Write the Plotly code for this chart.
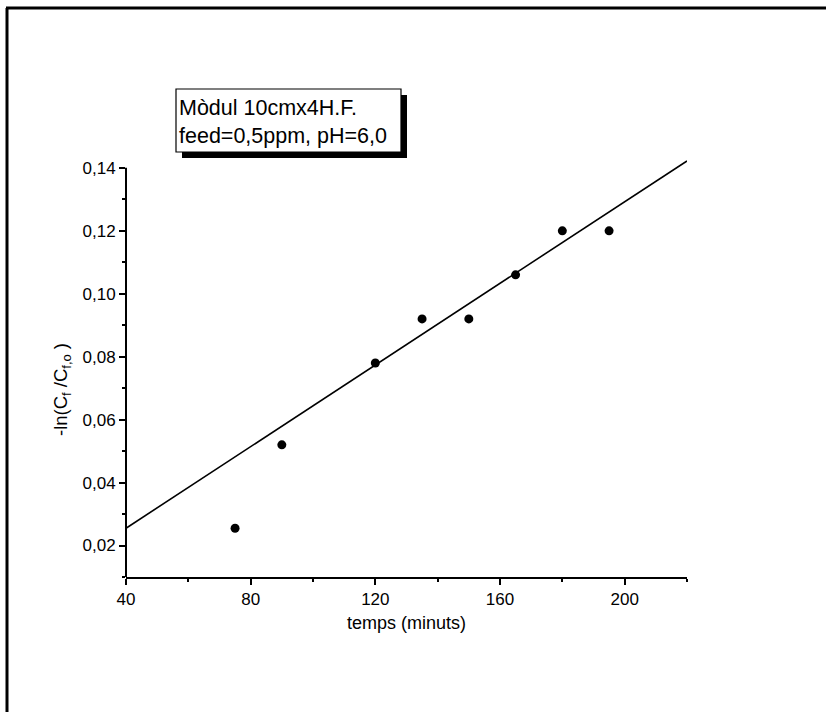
import plotly.graph_objects as go

# ---- data ----
time_min = [75, 90, 120, 135, 150, 165, 180, 195]
neg_ln_ratio = [0.0255, 0.052, 0.078, 0.092, 0.092, 0.106, 0.120, 0.120]
fit_x = [40, 220]
fit_y = [0.0255, 0.1422]
x_ticks = [40, 80, 120, 160, 200]
y_ticks = [0.02, 0.04, 0.06, 0.08, 0.10, 0.12, 0.14]
y_ticklabels = ["0,02", "0,04", "0,06", "0,08", "0,10", "0,12", "0,14"]
box_text = "Mòdul 10cmx4H.F.<br>feed=0,5ppm, pH=6,0"
x_title = "temps (minuts)"
y_title = "-ln(C<sub>f</sub> /C<sub>f,o</sub> )"

W, H = 826, 712
L, R, T, B = 126, 687, 160, 577


def px(x):
    return (x - L) / (R - L)


def py(y):
    return (B - y) / (B - T)


FONT = "Arial, Liberation Sans, sans-serif"

fig = go.Figure()
fig.add_trace(go.Scatter(x=fit_x, y=fit_y, mode="lines",
                         line=dict(color="black", width=1.6),
                         showlegend=False, hoverinfo="skip"))
fig.add_trace(go.Scatter(x=time_min, y=neg_ln_ratio, mode="markers",
                         marker=dict(color="black", size=9),
                         showlegend=False))

fig.update_layout(
    width=W, height=H,
    margin=dict(l=L, r=W - R, t=T, b=H - B, pad=0),
    paper_bgcolor="white", plot_bgcolor="white",
    font=dict(family=FONT, color="black"),
    separators=",.",
    xaxis=dict(range=[40, 220], tickvals=x_ticks, ticks="outside",
               ticklen=6, tickwidth=1.5, tickcolor="black",
               showline=True, linecolor="black", linewidth=2,
               showgrid=False, zeroline=False,
               tickfont=dict(size=17, family=FONT),
               minor=dict(dtick=20, tick0=40, ticks="outside", ticklen=3,
                          tickwidth=1.5, tickcolor="black"),
               title=dict(text=x_title, font=dict(size=18, family=FONT),
                          standoff=8)),
    yaxis=dict(range=[0.01, 0.1425], tickvals=y_ticks, ticktext=y_ticklabels,
               ticks="outside", ticklen=6, tickwidth=1.5, tickcolor="black",
               showline=False, showgrid=False, zeroline=False,
               tickfont=dict(size=17, family=FONT),
               minor=dict(tickvals=[0.01, 0.03, 0.05, 0.07, 0.09, 0.11, 0.13],
                          ticks="outside", ticklen=3, tickwidth=1.5,
                          tickcolor="black")),
)

shapes = [
    # left axis line (ends at 0.14)
    dict(type="line", xref="paper", yref="y", x0=0, x1=0, y0=0.01, y1=0.14,
         line=dict(color="black", width=2)),
    # shadow of text box
    dict(type="rect", xref="paper", yref="paper",
         x0=px(182), x1=px(407), y0=py(158), y1=py(95),
         fillcolor="black", line=dict(width=0), layer="above"),
    # text box
    dict(type="rect", xref="paper", yref="paper",
         x0=px(176), x1=px(401), y0=py(152), y1=py(89),
         fillcolor="white", line=dict(color="black", width=1.2), layer="above"),
    # outer frame
    dict(type="line", xref="paper", yref="paper",
         x0=px(6), x1=px(826), y0=py(8), y1=py(8),
         line=dict(color="black", width=3)),
    dict(type="line", xref="paper", yref="paper",
         x0=px(7), x1=px(7), y0=py(8), y1=py(712),
         line=dict(color="black", width=3)),
]
fig.update_layout(shapes=shapes)

fig.add_annotation(text=box_text, xref="paper", yref="paper",
                   x=px(177), y=py(122), xanchor="left", yanchor="middle",
                   align="left", showarrow=False,
                   font=dict(size=21.5, family=FONT, color="black"))
fig.add_annotation(text=y_title, xref="paper", yref="paper",
                   x=px(62), y=py(390), xanchor="center", yanchor="middle",
                   textangle=-90, showarrow=False,
                   font=dict(size=18.5, family=FONT, color="black"))

fig.write_html("out.html")
